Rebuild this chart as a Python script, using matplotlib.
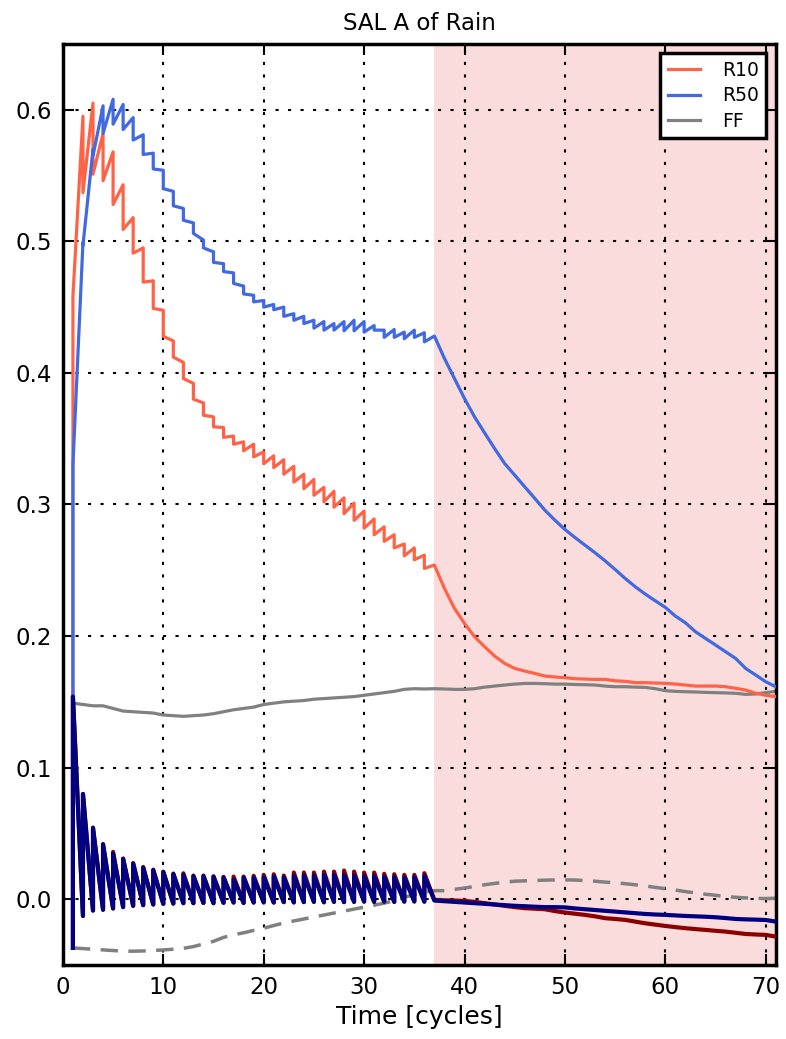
import numpy as np
import matplotlib
matplotlib.use('Agg')
import matplotlib.pyplot as plt

# cycles with assimilation (forecast -> analysis jump), then free run
cyc = list(range(1, 37))
free_x = list(range(37, 72))
all_x = list(range(1, 72))

# R10: forecast / analysis for cycles 1..36, free run 37..71
r10_f = [0.154, 0.595, 0.605, 0.582, 0.568, 0.543, 0.518, 0.495, 0.470, 0.4476,
         0.4243, 0.408, 0.392, 0.3772, 0.3666, 0.3585, 0.352, 0.3476, 0.3458, 0.340,
         0.337, 0.334, 0.329, 0.323, 0.319, 0.313, 0.310, 0.305, 0.301, 0.295,
         0.289, 0.283, 0.277, 0.270, 0.267, 0.2615]
r10_a = [0.458, 0.537, 0.551, 0.546, 0.528, 0.509, 0.491, 0.469, 0.449, 0.4278,
         0.412, 0.3957, 0.380, 0.3678, 0.359, 0.351, 0.3458, 0.3408, 0.3362, 0.331,
         0.328, 0.323, 0.317, 0.312, 0.307, 0.302, 0.298, 0.293, 0.288, 0.282,
         0.277, 0.272, 0.267, 0.261, 0.258, 0.2514]
r10_free = [0.254, 0.2362, 0.221, 0.2096, 0.1995, 0.1919, 0.1848, 0.1792, 0.1754, 0.1734,
            0.1716, 0.1696, 0.1689, 0.1684, 0.1676, 0.1673, 0.1671, 0.1671, 0.166, 0.1656,
            0.1646, 0.1646, 0.1643, 0.1641, 0.1635, 0.1628, 0.162, 0.162, 0.162, 0.1615,
            0.1603, 0.159, 0.1565, 0.155, 0.154]

# R50
r50_f = [0.154, 0.499, 0.570, 0.603, 0.608, 0.604, 0.594, 0.581, 0.567, 0.554,
         0.538, 0.525, 0.514, 0.501, 0.492, 0.483, 0.476, 0.466, 0.459, 0.455,
         0.452, 0.450, 0.445, 0.443, 0.440, 0.439, 0.4375, 0.439, 0.440, 0.439,
         0.436, 0.4325, 0.433, 0.431, 0.4325, 0.4305]
r50_a = [0.330, 0.497, 0.565, 0.582, 0.589, 0.585, 0.577, 0.566, 0.555, 0.540,
         0.527, 0.516, 0.506, 0.495, 0.484, 0.477, 0.468, 0.460, 0.454, 0.450,
         0.448, 0.443, 0.440, 0.4375, 0.434, 0.4325, 0.4325, 0.432, 0.432, 0.431,
         0.4325, 0.427, 0.427, 0.426, 0.427, 0.4236]
r50_free = [0.428, 0.411, 0.3957, 0.3805, 0.3666, 0.3544, 0.3425, 0.3311, 0.3223, 0.3134,
            0.3046, 0.2957, 0.2881, 0.281, 0.2749, 0.2691, 0.2633, 0.2572, 0.2506, 0.2438,
            0.2375, 0.2319, 0.2268, 0.2218, 0.2152, 0.2101, 0.2033, 0.1982, 0.1932, 0.1881,
            0.183, 0.1754, 0.1704, 0.1653, 0.1615]

# FF (solid) and second FF (dashed), cycles 1..71
ff = [0.149, 0.148, 0.147, 0.147, 0.145, 0.143, 0.1425, 0.142, 0.1415, 0.140,
      0.1395, 0.139, 0.1395, 0.140, 0.141, 0.1425, 0.144, 0.145, 0.146, 0.148,
      0.149, 0.150, 0.1505, 0.151, 0.152, 0.1525, 0.153, 0.1535, 0.154, 0.155,
      0.156, 0.157, 0.158, 0.1595, 0.160, 0.1598, 0.160, 0.1598, 0.1595, 0.1595,
      0.160, 0.1612, 0.162, 0.1628, 0.1635, 0.164, 0.164, 0.1638, 0.1635, 0.1635,
      0.1632, 0.163, 0.1628, 0.162, 0.1615, 0.1615, 0.1612, 0.161, 0.160, 0.1585,
      0.158, 0.1577, 0.1575, 0.1572, 0.157, 0.1568, 0.1565, 0.1557, 0.156, 0.157,
      0.158]
ff_dash = [-0.037, -0.0375, -0.038, -0.0385, -0.039, -0.0395, -0.0395, -0.0393, -0.039, -0.0385,
           -0.038, -0.0373, -0.036, -0.034, -0.032, -0.029, -0.027, -0.0255, -0.0237, -0.022,
           -0.020, -0.018, -0.0165, -0.015, -0.0135, -0.012, -0.0105, -0.009, -0.0075, -0.006,
           -0.0045, -0.003, -0.001, 0.0015, 0.0035, 0.0055, 0.0065, 0.0065, 0.0075, 0.0085,
           0.0097, 0.011, 0.012, 0.013, 0.0137, 0.014, 0.0143, 0.0145, 0.0147, 0.0147,
           0.0146, 0.0142, 0.0137, 0.013, 0.0125, 0.0118, 0.011, 0.0101, 0.009, 0.008,
           0.007, 0.0058, 0.0048, 0.0038, 0.003, 0.002, 0.0015, 0.001, 0.0007, 0.0005,
           0.0008]

# low lines (navy / darkred): forecast troughs, analysis peaks
low_f = [-0.037, -0.0127, -0.0086, -0.008, -0.007, -0.006, -0.005, -0.0045, -0.004, -0.0035,
         -0.0033, -0.003, -0.003, -0.0028, -0.003, -0.0027, -0.0025, -0.0028, -0.0025, -0.0024,
         -0.0025, -0.0022, -0.0024, -0.0022, -0.002, -0.0023, -0.002, -0.0022, -0.002, -0.0018,
         -0.002, -0.0018, -0.002, -0.0018, -0.0017, -0.0018]
navy_a = [0.154, 0.080, 0.054, 0.0415, 0.0345, 0.0305, 0.027, 0.024, 0.022, 0.0205,
          0.019, 0.0185, 0.0175, 0.0175, 0.017, 0.0165, 0.015, 0.0165, 0.0165, 0.0167,
          0.0172, 0.0165, 0.0178, 0.018, 0.018, 0.0185, 0.0185, 0.0185, 0.018, 0.0175,
          0.0175, 0.017, 0.0168, 0.0165, 0.0167, 0.0175]
dred_a = [0.154, 0.080, 0.0545, 0.042, 0.036, 0.031, 0.0275, 0.0245, 0.0225, 0.021,
          0.0195, 0.0197, 0.018, 0.018, 0.0175, 0.017, 0.0172, 0.0172, 0.0178, 0.0185,
          0.019, 0.018, 0.0203, 0.0203, 0.0203, 0.021, 0.021, 0.0218, 0.021, 0.0203,
          0.0203, 0.0193, 0.019, 0.0185, 0.0185, 0.0198]
navy_free = [-0.001, -0.0015, -0.002, -0.0025, -0.003, -0.0035, -0.004, -0.0045, -0.005, -0.0053,
             -0.0057, -0.006, -0.006, -0.0062, -0.007, -0.0076, -0.0082, -0.0088, -0.0094, -0.01,
             -0.0106, -0.0112, -0.0116, -0.0119, -0.0123, -0.0127, -0.013, -0.0133, -0.0137, -0.0143,
             -0.015, -0.0153, -0.0155, -0.0158, -0.017]
dred_free = [-0.0005, -0.0008, -0.001, -0.0013, -0.002, -0.003, -0.004, -0.005, -0.006, -0.0068,
             -0.0072, -0.0076, -0.009, -0.0101, -0.011, -0.0119, -0.013, -0.0144, -0.015, -0.0157,
             -0.017, -0.0183, -0.0193, -0.0203, -0.0212, -0.022, -0.0227, -0.0233, -0.024, -0.0246,
             -0.0255, -0.0264, -0.0268, -0.0271, -0.0284]


def cycle_series(fc, an, free):
    xs, ys = [], []
    for k, f, a in zip(cyc, fc, an):
        xs += [k, k]
        ys += [f, a]
    return xs + free_x, ys + free


fig = plt.figure(figsize=(7.86, 10.39), dpi=100)
ax = fig.add_axes([0.080, 0.0712, 0.907, 0.8865])

ax.axvspan(37, 71, color='lightcoral', alpha=0.27, lw=0, zorder=0)

x, y = cycle_series(low_f, dred_a, dred_free)
ax.plot(x, y, color='darkred', lw=3, zorder=3)
x, y = cycle_series(low_f, navy_a, navy_free)
ax.plot(x, y, color='navy', lw=3, zorder=4)
ax.plot(all_x, ff_dash, color='gray', lw=2.5, ls=(0, (5, 3)), zorder=2)

x, y = cycle_series(r10_f, r10_a, r10_free)
ax.plot(x, y, color='tomato', lw=2.3, label='R10', zorder=3)
x, y = cycle_series(r50_f, r50_a, r50_free)
ax.plot(x, y, color='royalblue', lw=2.3, label='R50', zorder=3)
ax.plot(all_x, ff, color='gray', lw=2.3, label='FF', zorder=2)

ax.set_xlim(0, 71)
ax.set_ylim(-0.05, 0.65)
ax.set_xticks(range(0, 71, 10))
ax.set_yticks([0.0, 0.1, 0.2, 0.3, 0.4, 0.5, 0.6])
ax.grid(True, color='black', ls=(0, (1.5, 4.5)), lw=1.5)
ax.tick_params(direction='in', top=True, right=True, length=8, width=1.5,
               labelsize=16.5, pad=8)
for s in ax.spines.values():
    s.set_linewidth(2.5)

ax.set_title('SAL A of Rain', fontsize=16.5, pad=10)
ax.set_xlabel('Time [cycles]', fontsize=18, labelpad=4)

leg = ax.legend(loc='upper right', fontsize=13.5, fancybox=False, framealpha=1,
                edgecolor='black', handlelength=1.7, handletextpad=1.2,
                borderpad=0.4, labelspacing=0.35)
leg.get_frame().set_linewidth(2.5)

fig.savefig('out.png', dpi=100)
